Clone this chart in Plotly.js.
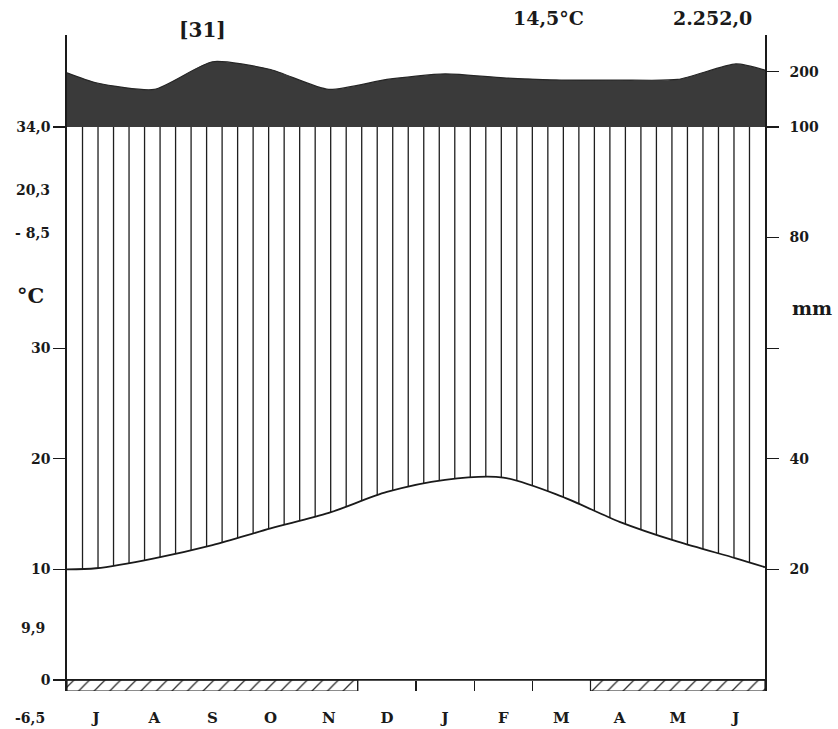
<!DOCTYPE html>
<html><head><meta charset="utf-8">
<script src="https://cdn.plot.ly/plotly-3.0.1.min.js"></script>
<style>html,body{margin:0;padding:0;background:#fff}</style>
</head><body><div id="chart" style="width:838px;height:729px"></div>
<script>
// ---- data ----
const months = ['J','A','S','O','N','D','J','F','M','A','M','J'];
const temperature = [10.1, 11.0, 12.2, 13.7, 15.1, 17.0, 18.1, 18.3, 16.6, 14.3, 12.5, 11.0];
const tempStart = 10.0;
const tempEnd = 10.2;
const precipitation = [180, 168, 218, 204, 168, 186, 196, 189, 185, 185, 186, 214];
const precipStart = 198;
const precipEnd = 203;
const frost = [1,1,1,1,1,0,0,0,0,1,1,1];
const leftTickVals = [0, 10, 20, 30, 50];
const leftTickText = ['0', '10', '20', '30', '34,0'];
const rightTickVals = [20, 40, 60, 80, 100];
const rightTickText = ['20', '40', '', '80', '100'];
const upperTickVals = [200];
const upperTickText = ['200'];
const stationLabel = '[31]';
const meanTempLabel = '14,5°C';
const annualPrecipLabel = '2.252,0';
const leftNotes = ['20,3', '- 8,5', '9,9', '-6,5'];

// ---- derived ----
const n = months.length;
const mmPerDeg = 2;              // Walter-Lieth scale: 10 °C = 20 mm
const centers = months.map((m, i) => i + 0.5);
const curveX = [0].concat(centers, [n]);
const tempY = [tempStart].concat(temperature, [tempEnd]);
const tempInMm = tempY.map(t => t * mmPerDeg);
const precY = [precipStart].concat(precipitation, [precipEnd]);

function interp(xs, ys, x) {
  for (let i = 0; i < xs.length - 1; i++) {
    if (x >= xs[i] && x <= xs[i + 1]) {
      const t = (x - xs[i]) / (xs[i + 1] - xs[i]);
      return ys[i] + t * (ys[i + 1] - ys[i]);
    }
  }
  return ys[ys.length - 1];
}

// vertical hatching for the humid period (precip capped at 100 mm)
const nHatch = 45;
const hx = [], hy = [];
for (let k = 1; k < nHatch; k++) {
  const x = n * k / nHatch;
  const top = Math.min(100, interp(curveX, precY, x));
  hx.push(x, x, null);
  hy.push(0, top, null);
}

// frost runs
const runs = [];
let s = null;
for (let i = 0; i <= n; i++) {
  if (i < n && frost[i]) { if (s === null) s = i; }
  else if (s !== null) { runs.push([s, i]); s = null; }
}
const boundaryTicks = [];
for (let k = 1; k < n; k++) {
  if (!(frost[k - 1] && frost[k])) boundaryTicks.push(k);
}

const font = {family: 'DejaVu Serif', size: 14, color: '#1a1a1a', weight: 'bold'};

const traces = [
  {type: 'bar', x: runs.map(r => (r[0] + r[1]) / 2), width: runs.map(r => r[1] - r[0]),
   y: runs.map(r => -1), base: 0, yaxis: 'y',
   marker: {color: '#ffffff', line: {color: '#1a1a1a', width: 1.2},
            pattern: {shape: '/', fgcolor: '#333', bgcolor: '#fff', size: 11, solidity: 0.12}},
   showlegend: false, hoverinfo: 'skip'},
  {x: hx, y: hy, yaxis: 'y2', mode: 'lines', line: {color: '#1e1e1e', width: 1.3},
   hoverinfo: 'skip', showlegend: false},
  {x: curveX, y: tempInMm, yaxis: 'y2', mode: 'lines', fill: 'tozeroy', fillcolor: '#ffffff',
   line: {color: '#1a1a1a', width: 1.8, shape: 'spline', smoothing: 0.8}, showlegend: false},
  {x: curveX, y: precY, yaxis: 'y3', mode: 'lines', fill: 'tozeroy', fillcolor: '#3a3a3a',
   line: {color: '#262626', width: 1.2, shape: 'spline', smoothing: 0.6}, showlegend: false}
];

const pY = py => (691 - py) / 656;
const pX = px => (px - 67) / 698;
const split = 564 / 656;

const annotations = [
  {text: stationLabel, x: pX(202), y: pY(30), font: Object.assign({}, font, {size: 20})},
  {text: meanTempLabel, x: pX(548), y: pY(18), font: Object.assign({}, font, {size: 19})},
  {text: annualPrecipLabel, x: pX(712), y: pY(18), font: Object.assign({}, font, {size: 19})},
  {text: '°C', x: pX(30), y: pY(295), font: Object.assign({}, font, {size: 21})},
  {text: 'mm', x: pX(812), y: pY(308), font: Object.assign({}, font, {size: 19})},
  {text: leftNotes[0], x: pX(52), y: pY(190), xanchor: 'right', font: font},
  {text: leftNotes[1], x: pX(52), y: pY(233), xanchor: 'right', font: font},
  {text: leftNotes[2], x: pX(47), y: pY(628), xanchor: 'right', font: font},
  {text: leftNotes[3], x: pX(47), y: pY(718), xanchor: 'right', font: font}
].map(a => Object.assign({xref: 'paper', yref: 'paper', showarrow: false,
                          xanchor: 'center', yanchor: 'middle'}, a));

const layout = {
  width: 838, height: 729,
  margin: {l: 67, r: 73, t: 35, b: 38},
  paper_bgcolor: '#fff', plot_bgcolor: '#fff',
  font: font,
  showlegend: false,
  bargap: 0,
  xaxis: {range: [0, n], anchor: 'y', showline: false, showgrid: false, zeroline: false,
          tickmode: 'array', tickvals: centers, ticktext: months, ticks: '',
          ticklabelstandoff: 16, tickfont: Object.assign({}, font, {size: 15}),
          minor: {tickmode: 'array', tickvals: boundaryTicks, ticks: 'inside', ticklen: 10,
                  tickwidth: 1.2, tickcolor: '#1a1a1a', showgrid: false}},
  yaxis: {domain: [0, split], range: [-1, 50], side: 'left', showline: true, linecolor: '#1a1a1a',
          linewidth: 1.8, showgrid: false, zeroline: false, tickmode: 'array',
          tickvals: leftTickVals, ticktext: leftTickText, ticks: 'outside', ticklen: 12,
          tickwidth: 1.2, tickcolor: '#1a1a1a'},
  yaxis2: {overlaying: 'y', side: 'right', range: [-1 * mmPerDeg, 50 * mmPerDeg], showline: true,
           linecolor: '#1a1a1a', linewidth: 1.8, showgrid: false, zeroline: false, tickmode: 'array',
           tickvals: rightTickVals, ticktext: rightTickText, ticks: 'outside', ticklen: 12,
           tickwidth: 1.2, tickcolor: '#1a1a1a', ticklabelstandoff: 8},
  yaxis3: {domain: [split, 1], range: [100, 266.4], side: 'right', anchor: 'x', showline: true,
           mirror: true, linecolor: '#1a1a1a', linewidth: 1.8, showgrid: false, zeroline: false,
           tickmode: 'array', tickvals: upperTickVals, ticktext: upperTickText, ticks: 'outside',
           ticklen: 12, tickwidth: 1.2, tickcolor: '#1a1a1a', ticklabelstandoff: 8},
  shapes: [{type: 'line', xref: 'paper', yref: 'y', x0: 0, x1: 1, y0: 0, y1: 0,
            line: {color: '#1a1a1a', width: 1.8}, layer: 'above'}],
  annotations: annotations
};

Plotly.newPlot('chart', traces, layout, {staticPlot: true, displayModeBar: false});
</script></body></html>
